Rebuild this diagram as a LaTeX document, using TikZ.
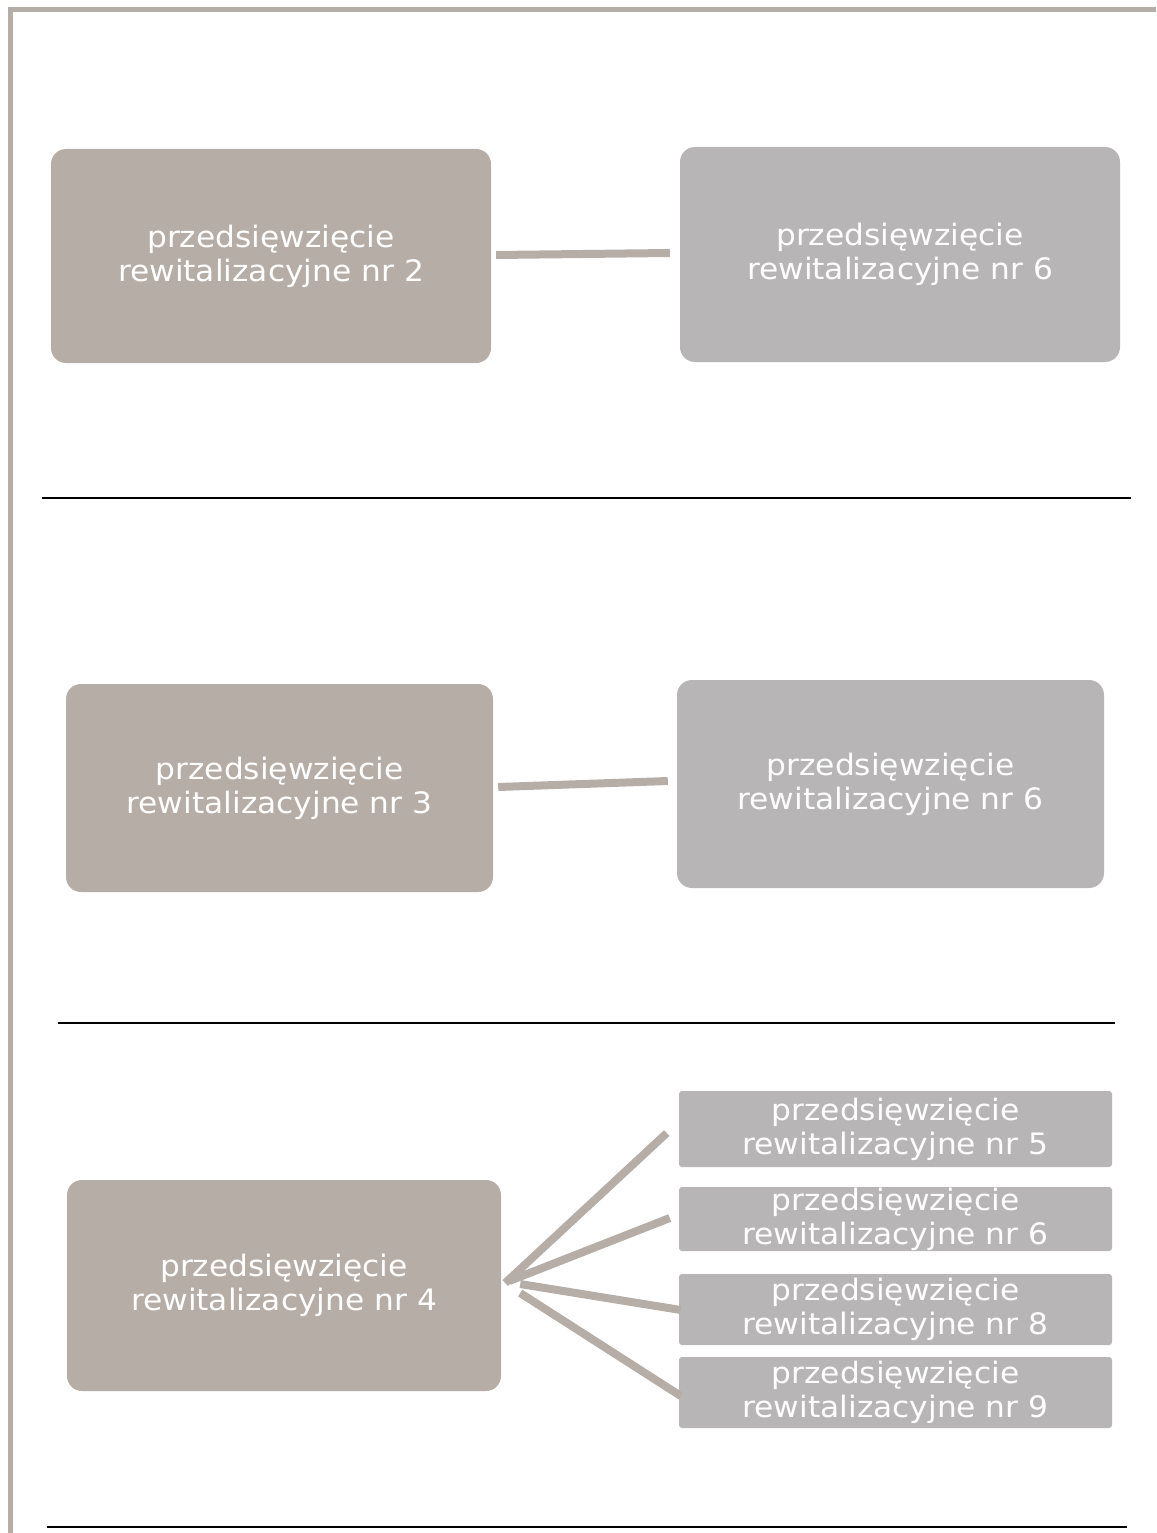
\documentclass[tikz,border=0pt]{standalone}
\usepackage{fontspec}
\setmainfont{DejaVu Sans}[FakeStretch=1.06]
\definecolor{brownbox}{RGB}{181,173,166}
\definecolor{graybox}{RGB}{183,181,182}
\begin{document}
\begin{tikzpicture}[x=1pt,y=-1pt,
  box/.style={inner sep=0pt, align=center, text=white, font=\fontsize{29.5}{34}\selectfont},
  bigA/.style={box, fill=brownbox, rounded corners=15pt},
  bigB/.style={box, fill=graybox, rounded corners=15pt},
  smallbox/.style={box, fill=graybox, rounded corners=3pt, minimum width=433pt},
  conn/.style={draw=brownbox, line width=8pt},
  sep/.style={draw=black, line width=2pt}]
\useasboundingbox (0,0) rectangle (1156,1533);
% frame
\draw[brownbox, line width=5pt] (10.5,1533) -- (10.5,9.5) -- (1156,9.5);
% row 1
\node[bigA, minimum width=440pt, minimum height=214pt] (a) at (271,256) {przedsięwzięcie\\rewitalizacyjne nr 2};
\node[bigB, minimum width=440pt, minimum height=215pt] (b) at (900,254.5) {przedsięwzięcie\\rewitalizacyjne nr 6};
\draw[conn] ([xshift=5pt,yshift=1pt]a.east) -- ([xshift=-10pt,yshift=1.5pt]b.west);
\draw[sep] (42,498) -- (1131,498);
% row 2
\node[bigA, minimum width=427pt, minimum height=208pt] (c) at (279.5,788) {przedsięwzięcie\\rewitalizacyjne nr 3};
\node[bigB, minimum width=427pt, minimum height=208pt] (e) at (890.5,784) {przedsięwzięcie\\rewitalizacyjne nr 6};
\draw[conn] ([xshift=5pt,yshift=1pt]c.east) -- ([xshift=-9pt,yshift=3pt]e.west);
\draw[sep] (58,1023) -- (1115,1023);
% row 3
\node[bigA, minimum width=434pt, minimum height=211pt] (d) at (284,1285.5) {przedsięwzięcie\\rewitalizacyjne nr 4};
\node[smallbox, minimum height=76pt] (s5) at (895.5,1129) {przedsięwzięcie\\rewitalizacyjne nr 5};
\node[smallbox, minimum height=64pt] (s6) at (895.5,1219) {przedsięwzięcie\\rewitalizacyjne nr 6};
\node[smallbox, minimum height=71pt] (s8) at (895.5,1309.5) {przedsięwzięcie\\rewitalizacyjne nr 8};
\node[smallbox, minimum height=71pt] (s9) at (895.5,1392.5) {przedsięwzięcie\\rewitalizacyjne nr 9};
\draw[conn] ([xshift=4pt,yshift=2.5pt]d.east) -- ([xshift=-12pt,yshift=-4pt]s5.west);
\draw[conn] ([xshift=8pt,yshift=4.5pt]d.east) -- ([xshift=-9pt,yshift=1pt]s6.west);
\draw[conn] ([xshift=19pt,yshift=1.5pt]d.east) -- ([xshift=2pt,yshift=-0.5pt]s8.west);
\draw[conn] ([xshift=19pt,yshift=-7.5pt]d.east) -- ([xshift=2pt,yshift=-3.5pt]s9.west);
\draw[sep] (47,1527) -- (1127,1527);
\end{tikzpicture}
\end{document}
